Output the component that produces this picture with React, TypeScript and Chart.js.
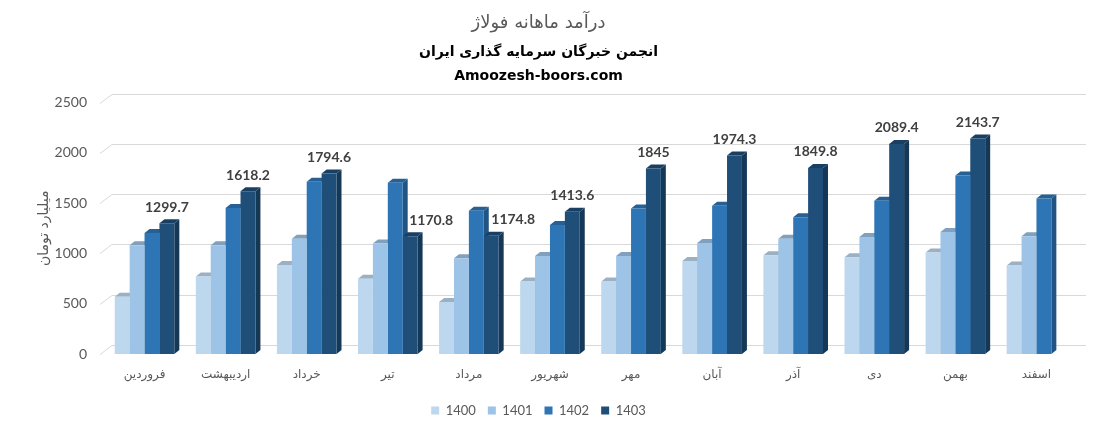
import React, { useEffect, useRef } from "react";
import { Chart, registerables } from "chart.js";

Chart.register(...registerables);

const months = ["فروردین", "اردیبهشت", "خرداد", "تیر", "مرداد", "شهریور", "مهر", "آبان", "آذر", "دی", "بهمن", "اسفند"];
const seriesNames = ["1400", "1401", "1402", "1403"];
const values1400 = [569, 771, 885, 748, 517, 722, 722, 925, 983, 961, 1010, 879];
const values1401 = [1081, 1081, 1147, 1098, 951, 974, 974, 1105, 1147, 1164, 1213, 1170];
const values1402 = [1203, 1451, 1713, 1703, 1425, 1284, 1448, 1474, 1360, 1523, 1775, 1546];
const values1403 = [1299.7, 1618.2, 1794.6, 1170.8, 1174.8, 1413.6, 1845, 1974.3, 1849.8, 2089.4, 2143.7, null];
const yTicks = [0, 500, 1000, 1500, 2000, 2500];

const colors = ["#BDD7EE", "#9DC3E6", "#2E75B6", "#1F4E79"];
const labelShiftX: Record<number, number> = { 3: 21, 4: 22 };

function shade(hex: string, f: number) {
  const n = parseInt(hex.slice(1), 16);
  const r = Math.round(((n >> 16) & 255) * f);
  const g = Math.round(((n >> 8) & 255) * f);
  const b = Math.round((n & 255) * f);
  return `rgb(${r},${g},${b})`;
}

const DX = 5;
const DY = 4;

const threeDPlugin = {
  id: "threeD",
  beforeDatasetsDraw(chart: any) {
    const ctx = chart.ctx;
    const ca = chart.chartArea;
    const ys = chart.scales.y;
    ctx.save();
    ctx.strokeStyle = "#D9D9D9";
    ctx.lineWidth = 1;
    for (const t of yTicks) {
      const py = Math.round(ys.getPixelForValue(t)) + 0.5;
      ctx.beginPath();
      ctx.moveTo(ca.left - 4, py);
      ctx.lineTo(ca.left + 8, py - 9);
      ctx.lineTo(ca.right + 9, py - 9);
      ctx.stroke();
    }
    chart.data.datasets.forEach((ds: any, di: number) => {
      const meta = chart.getDatasetMeta(di);
      const c = colors[di];
      meta.data.forEach((bar: any, i: number) => {
        if (ds.data[i] == null) return;
        const { x, y, base, width } = bar.getProps(["x", "y", "base", "width"], true);
        const l = x - width / 2;
        const r = x + width / 2;
        ctx.fillStyle = shade(c, 0.72);
        ctx.beginPath();
        ctx.moveTo(r, y);
        ctx.lineTo(r + DX, y - DY);
        ctx.lineTo(r + DX, base - DY);
        ctx.lineTo(r, base);
        ctx.closePath();
        ctx.fill();
        ctx.fillStyle = shade(c, 0.82);
        ctx.beginPath();
        ctx.moveTo(l, y);
        ctx.lineTo(l + DX, y - DY);
        ctx.lineTo(r + DX, y - DY);
        ctx.lineTo(r, y);
        ctx.closePath();
        ctx.fill();
      });
    });
    ctx.restore();
  },
  afterDatasetsDraw(chart: any) {
    const ctx = chart.ctx;
    const di = 3;
    const meta = chart.getDatasetMeta(di);
    const ds = chart.data.datasets[di];
    ctx.save();
    ctx.fillStyle = "#404040";
    ctx.font = "bold 14px Lato";
    ctx.textAlign = "center";
    ctx.textBaseline = "middle";
    meta.data.forEach((bar: any, i: number) => {
      const v = ds.data[i];
      if (v == null) return;
      const { x, y } = bar.getProps(["x", "y"], true);
      ctx.fillText(String(v), x + (labelShiftX[i] || 0), y - 16);
    });
    ctx.restore();
  },
};

export default function App() {
  const ref = useRef<HTMLCanvasElement>(null);
  useEffect(() => {
    if (!ref.current) return;
    const seriesValues = [values1400, values1401, values1402, values1403];
    const chart = new Chart(ref.current, {
      type: "bar",
      data: {
        labels: months,
        datasets: seriesNames.map((name, i) => ({
          label: name,
          data: seriesValues[i],
          backgroundColor: colors[i],
          borderWidth: 0,
          categoryPercentage: 0.735,
          barPercentage: 1,
        })),
      },
      options: {
        animation: false,
        responsive: true,
        maintainAspectRatio: false,
        layout: { padding: { left: 0, right: 40, top: 0, bottom: 0 } },
        plugins: {
          title: {
            display: true,
            text: "درآمد ماهانه فولاژ",
            color: "#595959",
            font: { family: "DejaVu Sans", size: 18, weight: "normal", lineHeight: 1.2 },
            padding: { top: 13, bottom: 6 },
          },
          subtitle: {
            display: true,
            text: ["انجمن خبرگان سرمایه گذاری ایران", "Amoozesh-boors.com"],
            color: "#000000",
            font: { family: "DejaVu Sans", size: 14, weight: "bold", lineHeight: 1.714 },
            padding: { top: 0, bottom: 14 },
          },
          legend: {
            position: "bottom",
            labels: {
              boxWidth: 8,
              boxHeight: 8,
              padding: 12,
              color: "#595959",
              font: { family: "Lato", size: 13 },
            },
          },
          tooltip: { enabled: false },
        },
        scales: {
          x: {
            grid: { display: false, drawTicks: false },
            border: { display: false },
            ticks: { color: "#595959", font: { family: "DejaVu Sans", size: 12 }, padding: 14 },
            afterFit: (s: any) => { s.height = 38; },
          },
          y: {
            min: 0,
            max: 2500,
            grid: { display: false, drawTicks: false },
            border: { display: false },
            afterBuildTicks: (s: any) => { s.ticks = yTicks.map((v) => ({ value: v })); },
            ticks: {
              color: "#595959",
              font: { family: "Lato", size: 14 },
              padding: 17,
              callback: (v: any) => String(v),
            },
            title: {
              display: true,
              text: "میلیارد تومان",
              color: "#595959",
              font: { family: "DejaVu Sans", size: 14 },
              padding: { top: 36, bottom: 0 },
            },
            afterFit: (s: any) => { s.width = 104; },
          },
        },
      },
      plugins: [threeDPlugin],
    });
    return () => chart.destroy();
  }, []);
  return (
    <div style={{ position: "absolute", left: 0, top: 0, width: 1117, height: 427, background: "#fff" }}>
      <canvas ref={ref} />
    </div>
  );
}
